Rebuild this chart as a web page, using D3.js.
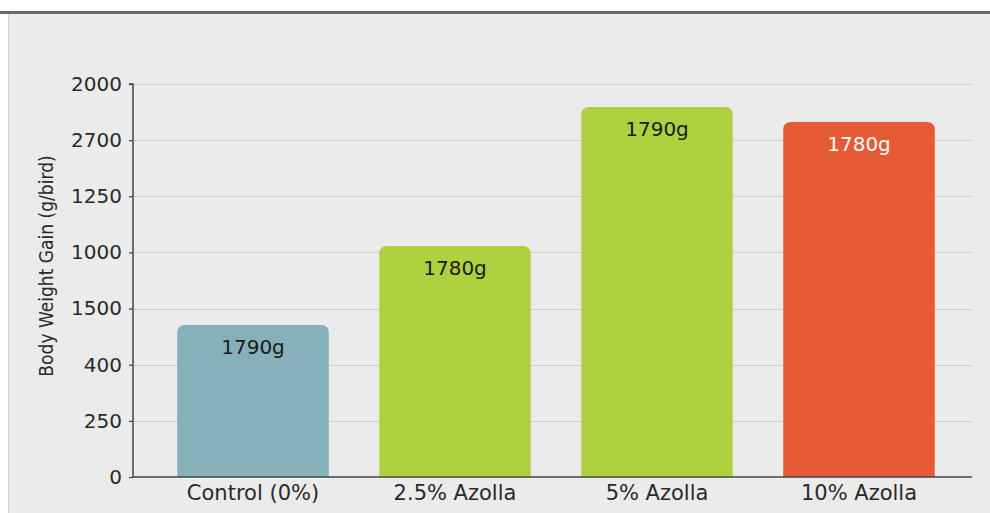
<!DOCTYPE html>
<html><head><meta charset="utf-8">
<script src="https://cdn.jsdelivr.net/npm/d3@7"></script>
<style>
html,body{margin:0;padding:0;background:#fff;}
svg{display:block;}
</style></head>
<body>
<svg id="c" width="990" height="513"></svg>
<script>
const categories = ["Control (0%)", "2.5% Azolla", "5% Azolla", "10% Azolla"];
const values = [677, 1029, 1648, 1581];
const barLabels = ["1790g", "1780g", "1790g", "1780g"];
const barColors = ["#86b0ba", "#afd13f", "#afd13f", "#e65a35"];
const labelColors = ["#1a1a1a", "#1a1a1a", "#1a1a1a", "#ffffff"];
const tickValues = [0, 250, 500, 750, 1000, 1250, 1500, 1750];
const tickLabels = ["0", "250", "400", "1500", "1000", "1250", "2700", "2000"];
const yTitle = "Body Weight Gain (g/bird)";

(function () {
const svg = d3.select("#c");
const W = 990, H = 513;
const mLeft = 133, mRight = 972, mTop = 84, mBottom = 477;
const font = "DejaVu Sans, sans-serif";

// background panel
svg.append("rect").attr("x", 0).attr("y", 0).attr("width", W).attr("height", H).attr("fill", "#ffffff");
svg.append("rect").attr("x", 8).attr("y", 12).attr("width", W - 8).attr("height", H - 12).attr("fill", "#ebebeb");
svg.append("line").attr("x1", 8.5).attr("x2", 8.5).attr("y1", 12).attr("y2", H).attr("stroke", "#d2d2d2").attr("stroke-width", 1);
svg.append("rect").attr("x", 0).attr("y", 11).attr("width", W).attr("height", 3).attr("fill", "#6a6a6a");

const y = d3.scaleLinear().domain([0, 1750]).range([mBottom, mTop]);
const x = d3.scaleBand().domain(categories).range([152, 960]).paddingInner(0.25).paddingOuter(0.125);

// gridlines
svg.append("g").selectAll("line").data(tickValues.slice(1)).join("line")
  .attr("x1", mLeft).attr("x2", mRight)
  .attr("y1", d => Math.round(y(d)) + 0.5).attr("y2", d => Math.round(y(d)) + 0.5)
  .attr("stroke", "#cfcfcf").attr("stroke-width", 1.2);

// bars with rounded top corners
function barPath(x0, y0, w, h, r) {
  return `M${x0},${y0 + h} L${x0},${y0 + r} Q${x0},${y0} ${x0 + r},${y0} L${x0 + w - r},${y0} Q${x0 + w},${y0} ${x0 + w},${y0 + r} L${x0 + w},${y0 + h} Z`;
}
svg.append("g").selectAll("path").data(categories).join("path")
  .attr("d", (d, i) => barPath(x(d), y(values[i]), x.bandwidth(), mBottom - y(values[i]), 8))
  .attr("fill", (d, i) => barColors[i]);

svg.append("g").selectAll("text").data(categories).join("text")
  .attr("x", d => x(d) + x.bandwidth() / 2)
  .attr("y", (d, i) => y(values[i]) + 29)
  .attr("text-anchor", "middle")
  .attr("font-family", font).attr("font-size", 20)
  .attr("fill", (d, i) => labelColors[i])
  .text((d, i) => barLabels[i]);

// y axis
const yAxis = d3.axisLeft(y).tickValues(tickValues).tickSize(4).tickPadding(7)
  .tickFormat((d, i) => tickLabels[i]);
const ya = svg.append("g").attr("transform", `translate(${mLeft},0)`).call(yAxis);
ya.select(".domain").attr("stroke", "#444").attr("stroke-width", 1.5).attr("d", `M-4,${mTop}H0V${mBottom}`);
ya.selectAll(".tick line").attr("stroke", "#444").attr("stroke-width", 1.2);
ya.selectAll(".tick text").attr("font-family", font).attr("font-size", 20).attr("fill", "#2a2a2a");

// x axis
const xa = svg.append("g").attr("transform", `translate(0,${mBottom})`)
  .call(d3.axisBottom(x).tickSize(0).tickPadding(8));
xa.select(".domain").attr("stroke", "#444").attr("stroke-width", 1.5).attr("d", `M${mLeft},0H${mRight}`);
xa.selectAll(".tick text").attr("font-family", font).attr("font-size", 21).attr("fill", "#2a2a2a");

// y title
svg.append("text")
  .attr("transform", `translate(53,266) rotate(-90)`)
  .attr("text-anchor", "middle")
  .attr("font-family", "DejaVu Sans Condensed, DejaVu Sans, sans-serif").attr("font-size", 19).attr("fill", "#2a2a2a")
  .text(yTitle);
})();
</script>
</body></html>
